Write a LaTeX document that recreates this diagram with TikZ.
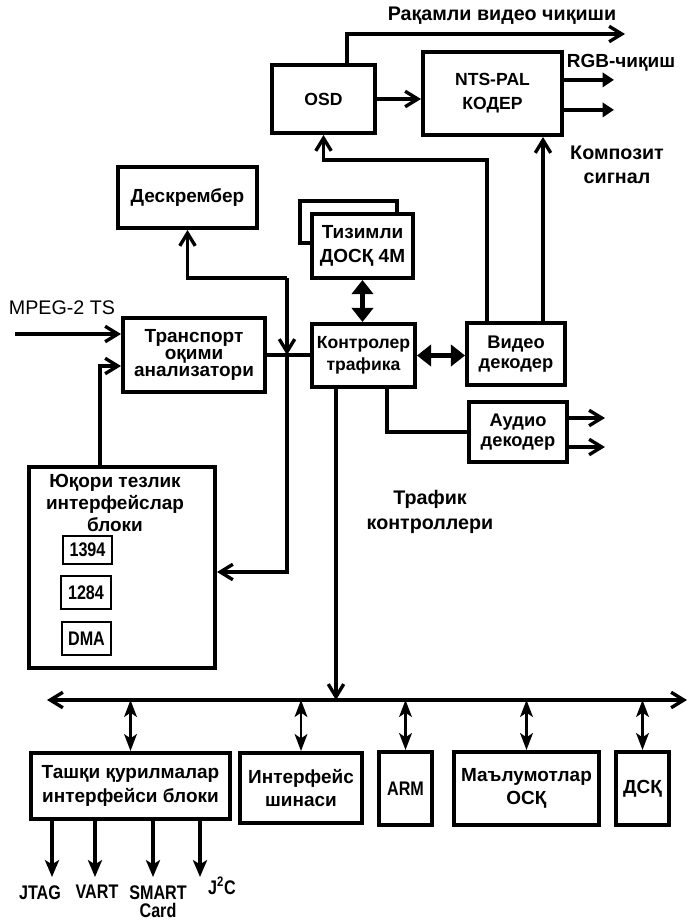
\documentclass[tikz,border=0pt]{standalone}
\usepackage{fontspec}
\setmainfont{Liberation Sans}
\newfontfamily\narrowfont[FakeStretch=0.82]{Liberation Sans}
\usetikzlibrary{arrows.meta}
\tikzset{>=latex}
\tikzset{
  block/.style={draw, line width=2.8pt, fill=white, align=center, inner sep=1pt,
    font=\fontsize{13.5}{16.5}\selectfont\bfseries},
  port/.style={draw, line width=2pt, inner sep=1pt,
    font=\narrowfont\fontsize{14}{16}\selectfont\bfseries},
  lbl/.style={align=center, inner sep=1pt, font=\fontsize{14}{17}\selectfont\bfseries},
  pinlbl/.style={align=center, inner sep=0pt, anchor=north,
    font=\narrowfont\fontsize{14}{13}\selectfont\bfseries},
  wire/.style={line width=2.4pt},
  sig/.style={line width=2.4pt, -{Straight Barb[length=9pt,width=11pt]}},
  dbl/.style={line width=3pt, {Triangle[length=10pt,width=15pt]}-{Triangle[length=10pt,width=15pt]}},
  busarr/.style={line width=2pt, {Stealth[length=12pt,width=9pt,inset=3pt]}-{Stealth[length=12pt,width=9pt,inset=3pt]}},
  outarr/.style={line width=2.4pt, -{Triangle[length=8pt,width=10pt]}},
  pinarr/.style={line width=2.4pt, -{Stealth[length=12pt,width=10pt,inset=3pt]}},
}

\begin{document}
\begin{tikzpicture}[x=0.025cm, y=-0.025cm]
\useasboundingbox (0,0) rectangle (690,920);

% video output blocks
\node[block, minimum width=2.575cm, minimum height=1.7cm,
  font=\fontsize{12.5}{15}\selectfont\bfseries] (osd) at (323.5,99) {OSD};
\node[block, minimum width=3.475cm, minimum height=2.075cm,
  font=\fontsize{12.5}{17}\selectfont\bfseries] (enc) at (492.5,93.5) {NTS-PAL\\КОДЕР};

% descrambler and system memory
\node[block, minimum width=3.475cm, minimum height=1.525cm] (descr) at (187.5,197.5) {Дескрембер};
\node[block, minimum width=2.425cm, minimum height=1.05cm] (memback) at (348.5,222) {};
\node[block, minimum width=2.525cm, minimum height=1.6cm,
  font=\fontsize{13.5}{17.5}\selectfont\bfseries] (mem) at (362.5,246) {Тизимли\\ДОСҚ 4М};

% stream path
\node[block, minimum width=3.55cm, minimum height=1.85cm,
  font=\fontsize{13.5}{12}\selectfont\bfseries] (transp) at (194,355) {Транспорт\\оқими\\анализатори};
\node[block, minimum width=2.575cm, minimum height=1.575cm,
  font=\fontsize{12.5}{15.5}\selectfont\bfseries] (ctrl) at (363.5,355.5) {Контролер\\трафика};
\node[block, minimum width=2.45cm, minimum height=1.55cm,
  font=\fontsize{13}{14.5}\selectfont\bfseries] (vdec) at (516,354) {Видео\\декодер};
\node[block, minimum width=2.45cm, minimum height=1.5cm,
  font=\fontsize{13}{14.5}\selectfont\bfseries] (adec) at (518,432) {Аудио\\декодер};

% high speed interfaces
\node[block, minimum width=4.65cm, minimum height=5.025cm] (hsif) at (122,567.5) {};
\node[lbl, font=\fontsize{13.5}{15.5}\selectfont\bfseries] (hsiftitle) at (115,503)
  {Юқори тезлик\\интерфейслар\\блоки};
\node[port, minimum width=1.225cm, minimum height=0.7cm] (p1394) at (87.5,550) {1394};
\node[port, minimum width=1.25cm, minimum height=0.825cm] (p1284) at (86,592.5) {1284};
\node[port, minimum width=1.225cm, minimum height=0.825cm] (pdma) at (86.5,638.5) {DMA};

% devices on the bus
\node[block, minimum width=4.975cm, minimum height=1.65cm,
  font=\fontsize{13.5}{17}\selectfont\bfseries] (ext) at (130.5,786) {Ташқи қурилмалар\\интерфейси блоки};
\node[block, minimum width=3.05cm, minimum height=1.75cm] (busif) at (301,788) {Интерфейс\\шинаси};
\node[block, minimum width=1.325cm, minimum height=1.825cm,
  font=\narrowfont\fontsize{14}{16}\selectfont\bfseries] (arm) at (405.5,788.5) {ARM};
\node[block, minimum width=3.625cm, minimum height=1.825cm] (data) at (526.5,788.5) {Маълумотлар\\ОСҚ};
\node[block, minimum width=1.325cm, minimum height=1.825cm] (dsq) at (642.5,788.5) {ДСҚ};

% free labels
\node[lbl] (digout) at (502,16) {Рақамли видео чиқиши};
\node[lbl, font=\fontsize{13.5}{16}\selectfont\bfseries] (rgb) at (621,63) {RGB-чиқиш};
\node[lbl, font=\fontsize{14}{17.5}\selectfont\bfseries] (comp) at (617,165) {Композит\\сигнал};
\node[lbl, font=\fontsize{14}{17}\selectfont] (mpeg) at (62,308) {MPEG-2 TS};
\node[lbl, font=\fontsize{14}{18}\selectfont\bfseries] (trlbl) at (430,512) {Трафик\\контроллери};

% video outputs
\coordinate (digend) at (625,34);
\draw[sig] (osd.east) -- (osd.east -| enc.west);
\draw[sig] (osd.north -| 347,0) |- (digend);
\foreach \ys in {0.34cm,-0.41cm}
  \draw[outarr] ([yshift=\ys]enc.east) -- ++(50,0);

% feeds from the video decoder
\draw[sig] (vdec.north -| 543,0) -- (enc.south -| 543,0);
\draw[sig] (vdec.north -| 487,0) -- (487,160) -| (osd.south);

% traffic controller links
\draw[dbl] (mem.south) -- (mem.south |- ctrl.north);
\draw[dbl] (ctrl.east) -- (ctrl.east -| vdec.west);
\draw[wire] (transp.east) -- (transp.east -| ctrl.west);
\draw[wire] ([xshift=0.59cm]ctrl.south) |- (adec.west);
\foreach \ys in {0.35cm,-0.375cm}
  \draw[sig] ([yshift=\ys]adec.east) -- ++(36,0);

% stream input and descrambler loop
\coordinate (mpegin) at (15,334);
\draw[sig] (mpegin) -- (mpegin -| transp.west);
\draw[sig] (hsif.north -| 100,0) |- (transp.west |- 0,366);
\coordinate (split) at (287,278);
\coordinate (cross) at (split |- transp.east);
\draw[sig] (split) -| (descr.south);
\draw[sig] (split) -- (cross);
\draw[sig] (cross) |- (hsif.east |- 0,572);

% system bus
\coordinate (busL) at (47,700);
\coordinate (busR) at (687,700);
\draw[line width=2.4pt, {Straight Barb[length=9pt,width=11pt]}-{Straight Barb[length=9pt,width=11pt]}] (busL) -- (busR);
\draw[sig] (ctrl.south -| 336,0) -- (busL -| 336,0);
\foreach \dev in {ext,busif,arm,data,dsq}
  \draw[busarr] (\dev.north |- busL) -- (\dev.north);

% peripheral lines
\foreach \x/\lx/\ly/\name/\txt in {52/40/885/jtag/JTAG, 95/97/885/vart/VART,
    153/158/885/smart/{SMART\\Card}, 200/222/877/jtwo/{J\textsuperscript{2}C}} {
  \draw[pinarr] (ext.south -| \x,0) -- (\x,877);
  \node[pinlbl] (\name) at (\lx,\ly) {\txt};
}
\end{tikzpicture}
\end{document}
